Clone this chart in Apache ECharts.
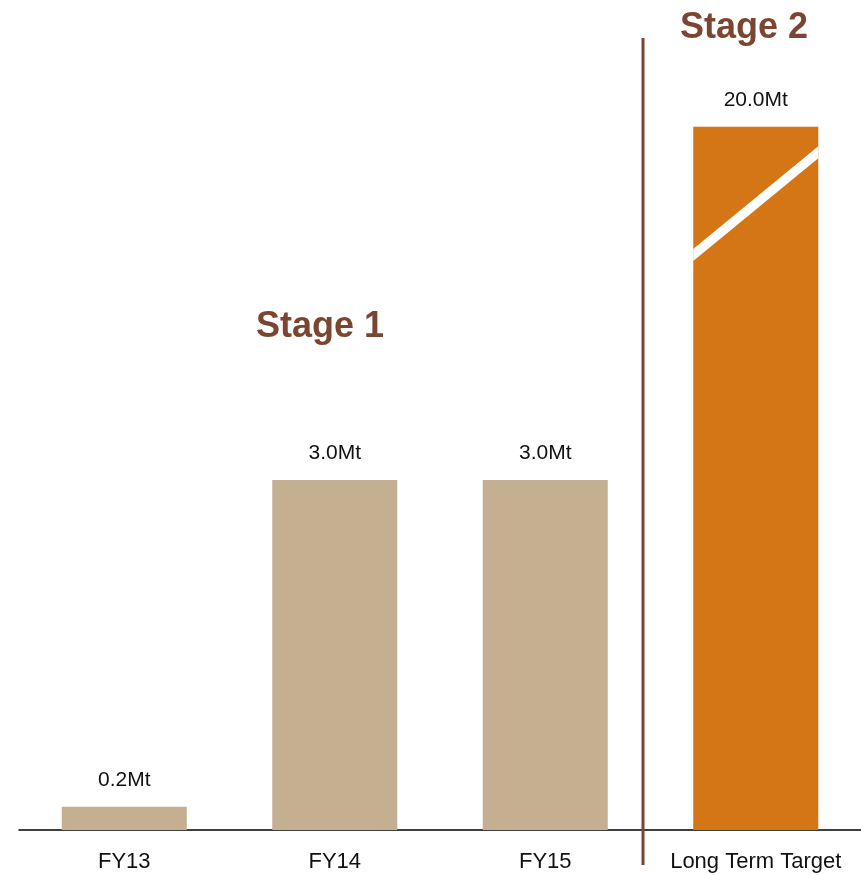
<!DOCTYPE html>
<html>
<head>
<meta charset="utf-8">
<script src="https://cdn.jsdelivr.net/npm/echarts@6.0.0/dist/echarts.min.js"></script>
<style>
html,body{margin:0;padding:0;background:#fff;}
#chart{width:861px;height:875px;}
</style>
</head>
<body>
<div id="chart"></div>
<script>
const categories = ['FY13', 'FY14', 'FY15', 'Long Term Target'];
const volumesMt = [0.2, 3.0, 3.0, 20.0];
const stageLabels = ['Stage 1', 'Stage 2'];
const stageOfCategory = [1, 1, 1, 2];

const FONT = "'Liberation Sans', Arial, sans-serif";
const TAN = '#c4b090';
const ORANGE = '#d57616';
const BROWN = '#7b4631';

// axis break (display only): values between these are cut out
const BREAK_START = 5.9;
const BREAK_END = 19.87;
// diagonal break mark across the broken bar (display values, below the break)
const STRIPE_LO = 4.93;
const STRIPE_HI = 5.81;
const BAR_FRAC = 0.594;

const chart = echarts.init(document.getElementById('chart'), null, {renderer: 'canvas'});

chart.setOption({
  animation: false,
  backgroundColor: '#ffffff',
  grid: {left: 19, right: 0, top: 10, bottom: 45, containLabel: false},
  xAxis: {
    type: 'category',
    data: categories,
    axisLine: {show: true, lineStyle: {color: '#000', width: 1.5}},
    axisTick: {show: false},
    axisLabel: {color: '#111', fontSize: 22, fontFamily: FONT, margin: 21, interval: 0}
  },
  yAxis: {
    type: 'value',
    min: 0,
    max: 21,
    breaks: [{start: BREAK_START, end: BREAK_END, gap: 0}],
    breakArea: {show: false},
    axisLine: {show: false},
    axisTick: {show: false},
    axisLabel: {show: false},
    splitLine: {show: false}
  },
  series: [
    {
      type: 'bar',
      barWidth: (BAR_FRAC * 100) + '%',
      data: volumesMt.map((v, i) => ({
        value: v,
        itemStyle: {color: stageOfCategory[i] === 2 ? ORANGE : TAN}
      })),
      label: {
        show: true,
        position: 'top',
        distance: 16,
        color: '#111',
        fontSize: 21,
        fontFamily: FONT,
        formatter: p => p.value.toFixed(1) + 'Mt'
      },
      z: 2
    },
    {
      type: 'custom',
      z: 3,
      silent: true,
      encode: {x: 0},
      data: [[categories.length - 1]],
      renderItem: function (params, api) {
        const idx = api.value(0);
        const pL = api.coord([idx, STRIPE_LO]);
        const pR = api.coord([idx, STRIPE_HI]);
        const bw = api.size([1, 0])[0] * BAR_FRAC;
        const xl = pL[0] - bw / 2, xr = pL[0] + bw / 2;
        const h = 6;
        return {
          type: 'polygon',
          shape: {points: [[xl, pL[1] - h], [xr, pR[1] - h], [xr, pR[1] + h], [xl, pL[1] + h]]},
          style: {fill: '#ffffff'}
        };
      }
    }
  ],
  graphic: [
    {
      type: 'line',
      shape: {x1: 643, y1: 38, x2: 643, y2: 865},
      style: {stroke: BROWN, lineWidth: 3},
      z: 10
    },
    {
      type: 'text',
      x: 320, y: 327,
      style: {text: stageLabels[0], fill: BROWN, font: 'bold 36px ' + FONT, textAlign: 'center', textVerticalAlign: 'middle'},
      z: 10
    },
    {
      type: 'text',
      x: 744, y: 28,
      style: {text: stageLabels[1], fill: BROWN, font: 'bold 36px ' + FONT, textAlign: 'center', textVerticalAlign: 'middle'},
      z: 10
    }
  ]
});
</script>
</body>
</html>
